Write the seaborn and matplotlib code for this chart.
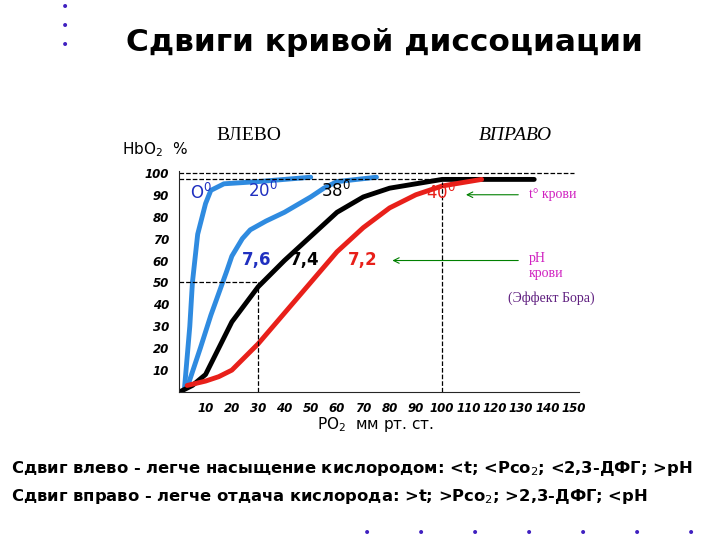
import matplotlib
matplotlib.use("Agg")
import matplotlib.pyplot as plt
import seaborn as sns
import pandas as pd

sns.set_style("white")
plt.rcParams['font.family'] = ['DejaVu Sans']
plt.rcParams['text.color'] = 'black'
plt.rcParams['xtick.color'] = 'black'
plt.rcParams['ytick.color'] = 'black'

x_0 = [2, 4, 5, 7, 10, 12, 17, 30, 50]
y_0 = [2, 30, 50, 72, 86, 92, 95, 96, 98]
x_20 = [3, 8, 12, 15, 18, 20, 24, 27, 33, 40, 50, 55, 60, 75]
y_20 = [2, 20, 35, 45, 55, 62, 70, 74, 78, 82, 89, 93, 96, 98]
x_38 = [0, 5, 10, 15, 20, 25, 30, 40, 50, 60, 70, 80, 90, 100, 135]
y_38 = [0, 3, 8, 20, 32, 40, 48, 60, 71, 82, 89, 93, 95, 97, 97]
x_40 = [3, 10, 15, 20, 30, 40, 50, 60, 70, 80, 90, 100, 115]
y_40 = [3, 5, 7, 10, 22, 36, 50, 64, 75, 84, 90, 94, 97]
xticks = [10, 20, 30, 40, 50, 60, 70, 80, 90, 100, 110, 120, 130, 140, 150]
yticks = [10, 20, 30, 40, 50, 60, 70, 80, 90, 100]

fig = plt.figure(figsize=(7.2, 5.4), dpi=100)
ax = fig.add_axes([0.249, 0.274, 0.555, 0.41])
for xs, ys, c in [(x_0, y_0, '#2f8be0'), (x_20, y_20, '#2f8be0'), (x_38, y_38, 'black'), (x_40, y_40, '#e8201a')]:
    sns.lineplot(data=pd.DataFrame({'x': xs, 'y': ys}), x='x', y='y', ax=ax, color=c, lw=3.5, sort=False)
ax.set_xlim(0, 152)
ax.set_ylim(0, 101)
ax.set_xticks(xticks)
ax.set_yticks(yticks)
ax.tick_params(labelsize=8.5, length=4, direction='out')
for t in ax.get_xticklabels() + ax.get_yticklabels():
    t.set_fontstyle('italic')
    t.set_fontweight('bold')
for s in ['top', 'right']:
    ax.spines[s].set_visible(False)
ax.set_xlabel('')
ax.set_ylabel('')
kw = dict(color='black', lw=0.9, ls='--')
ax.plot([0, 150], [100, 100], **kw)
ax.plot([0, 100], [97, 97], **kw)
ax.plot([100, 100], [0, 97], **kw)
ax.plot([0, 30], [50, 50], **kw)
ax.plot([30, 30], [0, 50], **kw)

ax.text(4, 88, 'O$^0$', color='#2030c0', fontsize=12)
ax.text(26, 89, '20$^0$', color='#2030c0', fontsize=12)
ax.text(54, 89, '38$^0$', color='black', fontsize=12)
ax.text(94, 88, '40$^0$', color='#e8201a', fontsize=12)
ax.text(24, 58, '7,6', color='#2030c0', fontsize=12, fontweight='bold')
ax.text(42, 58, '7,4', color='black', fontsize=12, fontweight='bold')
ax.text(64, 58, '7,2', color='#e8201a', fontsize=12, fontweight='bold')
ax.annotate('', xy=(108, 90), xytext=(130, 90), arrowprops=dict(arrowstyle='->', color='green', lw=0.8))
ax.annotate('', xy=(80, 60), xytext=(130, 60), arrowprops=dict(arrowstyle='->', color='green', lw=0.8))
ax.text(133, 90, 't° крови', color='#d020c0', fontsize=10, family='Liberation Serif', va='center')
ax.text(133, 61, 'pH', color='#d020c0', fontsize=10, family='Liberation Serif', va='center')
ax.text(133, 54, 'крови', color='#d020c0', fontsize=10, family='Liberation Serif', va='center')
ax.text(125, 43, '(Эффект Бора)', color='#602080', fontsize=10, family='Liberation Serif', va='center')

fig.text(0.17, 0.715, 'HbO$_2$  %', fontsize=11)
fig.text(0.44, 0.205, 'PO$_2$  мм рт. ст.', fontsize=11)
fig.text(0.175, 0.905, 'Сдвиги кривой диссоциации', fontsize=22.5, fontweight='bold')
fig.text(0.30, 0.74, 'ВЛЕВО', fontsize=14, family='Liberation Serif')
fig.text(0.665, 0.74, 'ВПРАВО', fontsize=14, family='Liberation Serif', fontstyle='italic')
fig.text(0.015, 0.125, 'Сдвиг влево - легче насыщение кислородом: <t; <Pco$_2$; <2,3-ДФГ; >pH',
         fontsize=11.8, fontweight='bold')
fig.text(0.015, 0.072, 'Сдвиг вправо - легче отдача кислорода: >t; >Pco$_2$; >2,3-ДФГ; <pH',
         fontsize=11.8, fontweight='bold')
for yy in [0.98, 0.945, 0.91]:
    fig.text(0.09, yy, '•', color='#4020c0', fontsize=10, ha='center')
for xx in [0.51, 0.585, 0.66, 0.735, 0.81, 0.885, 0.96]:
    fig.text(xx, 0.005, '•', color='#4020c0', fontsize=10, ha='center')
fig.savefig('out.png', dpi=100)
